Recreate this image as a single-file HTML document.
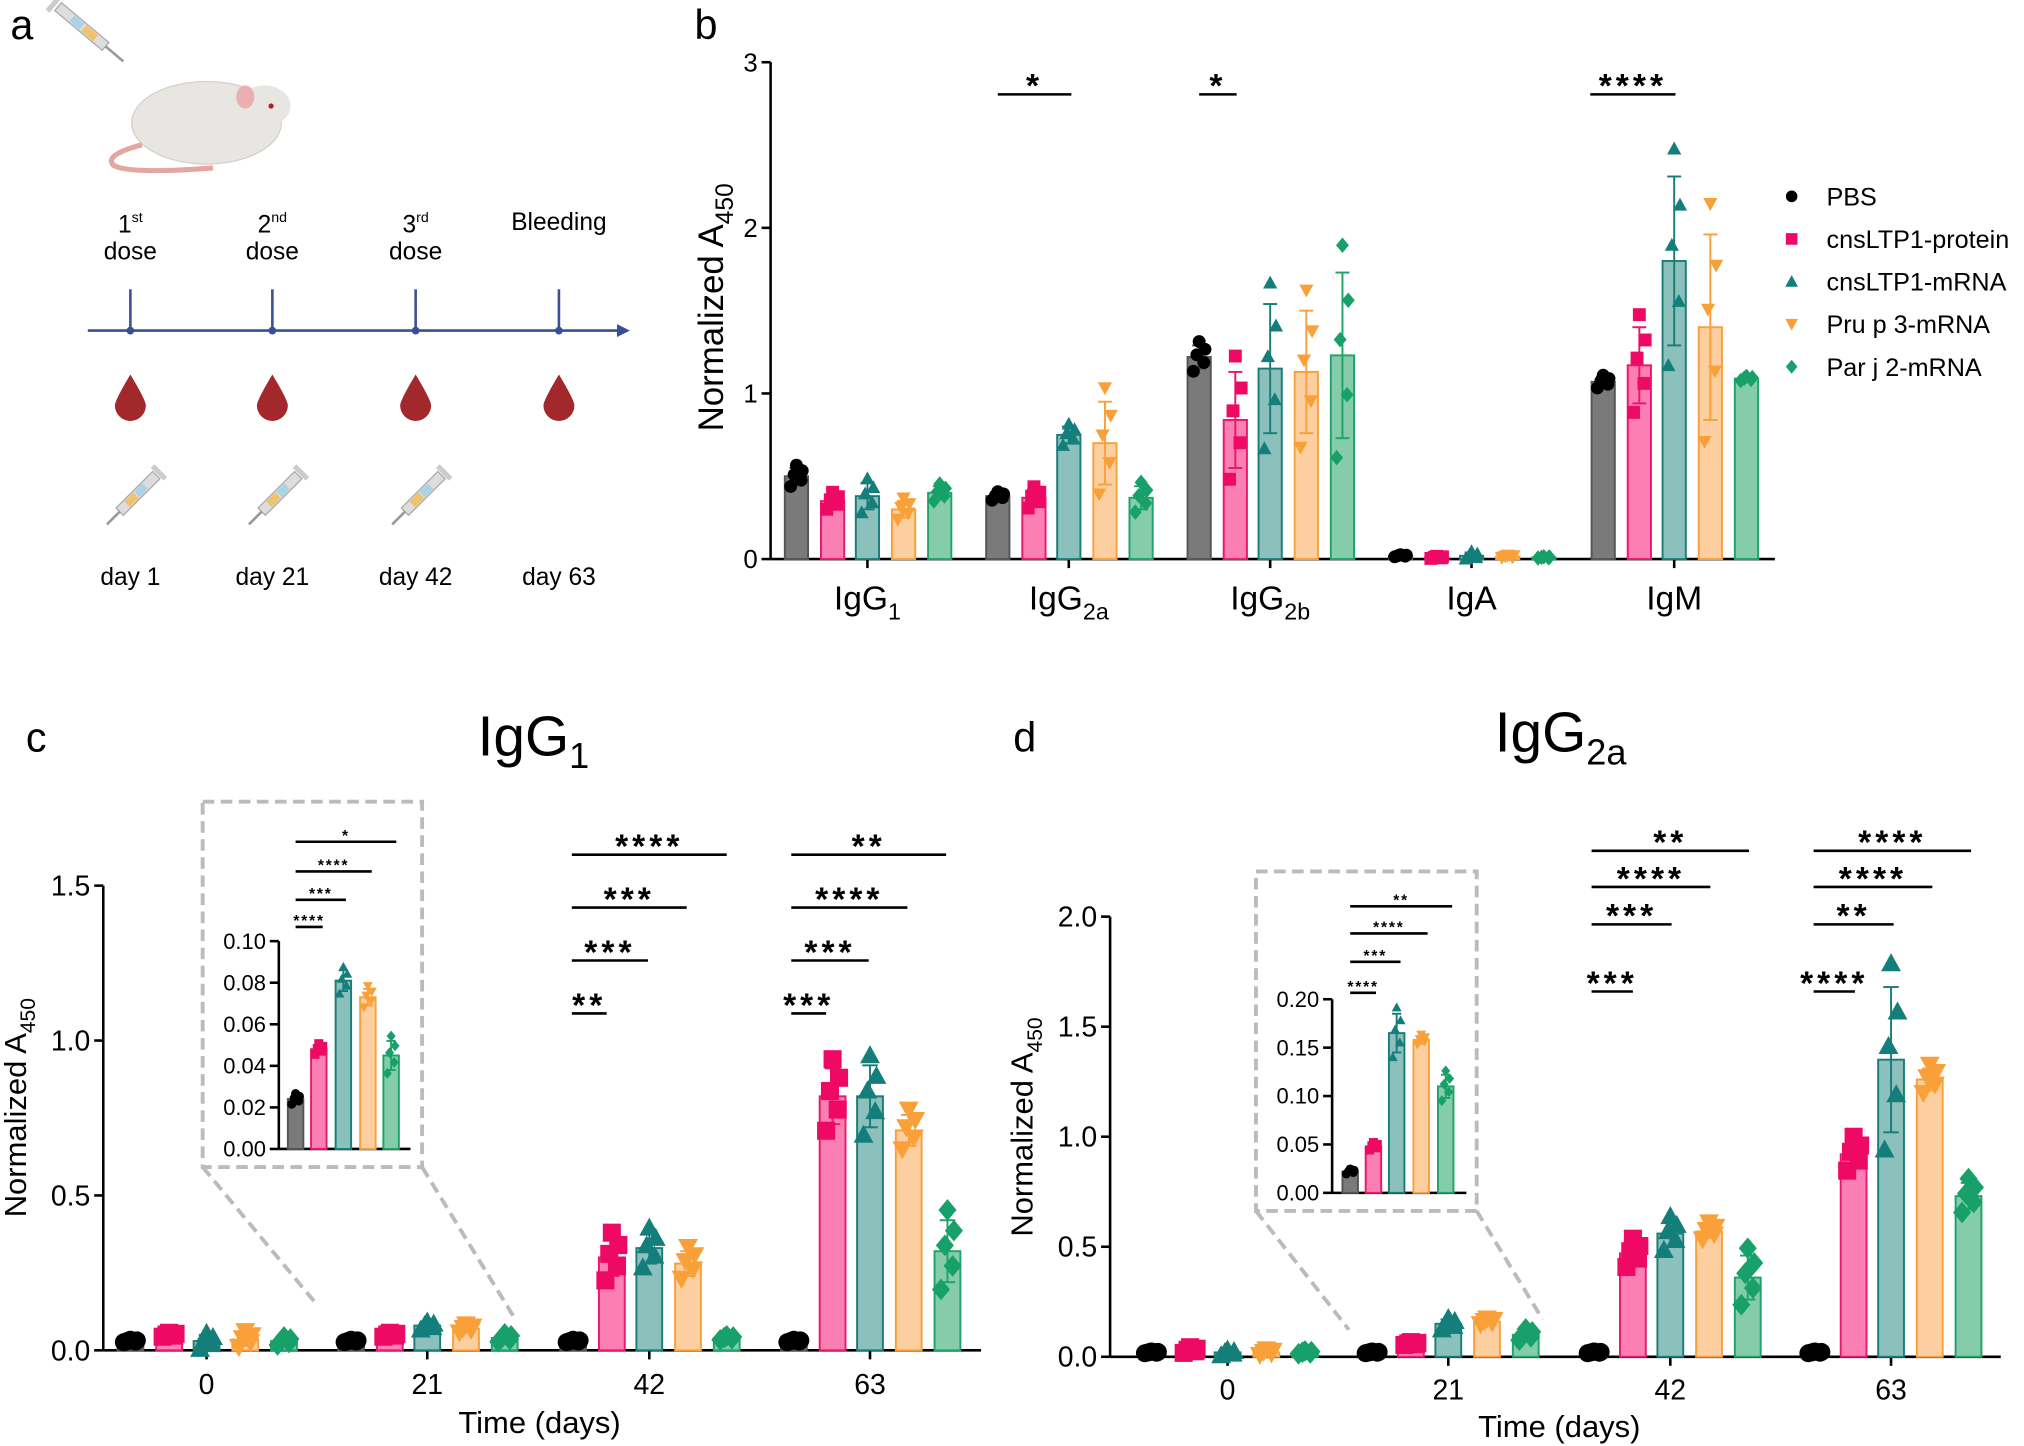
<!DOCTYPE html>
<html><head><meta charset="utf-8"><style>
html,body{margin:0;padding:0;background:#fff;}
svg{display:block;font-family:"Liberation Sans",Arial,sans-serif;}
</style></head><body>
<svg id="s" width="2024" height="1446" viewBox="0 0 1568 1120" xmlns="http://www.w3.org/2000/svg">
<text x="8" y="30" font-size="32">a</text>
<g transform="translate(45,5) rotate(40)">
<rect x="0" y="-4" width="48" height="8" fill="#ddd" stroke="#aaa"/><rect x="14" y="-3" width="10" height="6" fill="#a8d4e6"/><rect x="26" y="-3" width="12" height="6" fill="#f2c26b"/><line x1="48" y1="0" x2="66" y2="0" stroke="#999" stroke-width="2"/><rect x="-6" y="-8" width="4" height="16" fill="#ccc"/></g>
<ellipse cx="160" cy="95" rx="58" ry="32" fill="#e8e6e3" stroke="#d5d0ca"/>
<ellipse cx="205" cy="82" rx="20" ry="16" fill="#e8e6e3"/>
<ellipse cx="190" cy="75" rx="7" ry="9" fill="#eab0b0"/>
<circle cx="210" cy="82" r="2" fill="#b02020"/>
<path d="M110 112 Q80 120 88 128 Q100 135 165 130" fill="none" stroke="#e6a6a0" stroke-width="4"/>
<g fill="#000" font-size="19" text-anchor="middle">
<text x="101" y="180">1<tspan font-size="11" dy="-8">st</tspan></text><text x="101" y="201">dose</text>
<text x="211" y="180">2<tspan font-size="11" dy="-8">nd</tspan></text><text x="211" y="201">dose</text>
<text x="322" y="180">3<tspan font-size="11" dy="-8">rd</tspan></text><text x="322" y="201">dose</text>
<text x="433" y="178">Bleeding</text>
<text x="101" y="453">day 1</text><text x="211" y="453">day 21</text><text x="322" y="453">day 42</text><text x="433" y="453">day 63</text>
</g>
<line x1="68" y1="256" x2="480" y2="256" stroke="#3a4f95" stroke-width="2"/>
<polygon points="478,251 488,256 478,261" fill="#3a4f95"/>
<g id="tl"></g>
<text x="538" y="30" font-size="32">b</text>
<text x="20" y="582" font-size="32">c</text>
<text x="785" y="582" font-size="32">d</text>
<text x="370" y="585" font-size="44">IgG<tspan font-size="28" dy="10">1</tspan></text>
<text x="1158" y="582" font-size="44">IgG<tspan font-size="28" dy="10">2a</tspan></text>
<g id="g"></g>
</svg>
<script>
const NS="http://www.w3.org/2000/svg",G=document.getElementById('g'),TL=document.getElementById('tl');
function el(t,a,p,txt){const e=document.createElementNS(NS,t);for(const k in a)e.setAttribute(k,a[k]);if(txt!=null)e.textContent=txt;(p||G).appendChild(e);return e;}
[101,211,322,433].forEach((x,i)=>{el('line',{x1:x,y1:224,x2:x,y2:256,stroke:'#3a4f95','stroke-width':2},TL);el('circle',{cx:x,cy:256,r:3,fill:'#3a4f95'},TL);
el('path',{d:`M${x} 290 Q${x-12} 310 ${x-12} 314 A12 12 0 0 0 ${x+12} 314 Q${x+12} 310 ${x} 290Z`,fill:'#a3282b'},TL);
if(i<3){const g=el('g',{transform:`translate(${x+20},368) rotate(135)`},TL);el('rect',{x:0,y:-4,width:40,height:8,fill:'#ddd',stroke:'#aaa'},g);el('rect',{x:12,y:-3,width:9,height:6,fill:'#a8d4e6'},g);el('rect',{x:22,y:-3,width:10,height:6,fill:'#f2c26b'},g);el('line',{x1:40,y1:0,x2:54,y2:0,stroke:'#999','stroke-width':2},g);el('rect',{x:-5,y:-7,width:4,height:14,fill:'#ccc'},g);}
});
const C=[{f:'#7a7a7a',s:'#555',m:'#000',k:'c'},{f:'#fb7fb2',s:'#e8196d',m:'#ee0a64',k:'s'},{f:'#8bc0bd',s:'#1a7d78',m:'#147f7a',k:'u'},{f:'#fdcfa0',s:'#f8a03a',m:'#f9a038',k:'d'},{f:'#85ccaa',s:'#1fa36b',m:'#17a06a',k:'r'}];
function mk(k,x,y,r,col){
 if(k=='c')el('circle',{cx:x,cy:y,r:r,fill:col});
 else if(k=='s')el('rect',{x:x-r,y:y-r,width:2*r,height:2*r,fill:col});
 else if(k=='u')el('polygon',{points:`${x-r*1.1},${y+r*0.9} ${x+r*1.1},${y+r*0.9} ${x},${y-r*1.1}`,fill:col});
 else if(k=='d')el('polygon',{points:`${x-r*1.1},${y-r*0.9} ${x+r*1.1},${y-r*0.9} ${x},${y+r*1.1}`,fill:col});
 else el('polygon',{points:`${x},${y-r*1.2} ${x+r},${y} ${x},${y+r*1.2} ${x-r},${y}`,fill:col});}
function txt(x,y,s,sz,anc,extra){const a={x:x,y:y,'font-size':sz,'text-anchor':anc||'middle'};Object.assign(a,extra||{});return el('text',a,G,s);}
function bars(Y,cx,w,vals,sds,r){vals.forEach((v,i)=>{const c=C[i],x=cx[i],y0=Y(0),yv=Y(v);
 el('rect',{x:x-w/2,y:yv,width:w,height:y0-yv,fill:c.f,stroke:c.s,'stroke-width':1.5});
 const sd=sds[i];if(sd>0){el('line',{x1:x,y1:Y(v-sd),x2:x,y2:Y(v+sd),stroke:c.s,'stroke-width':1.5});[v-sd,v+sd].forEach(q=>el('line',{x1:x-w*0.3,y1:Y(q),x2:x+w*0.3,y2:Y(q),stroke:c.s,'stroke-width':1.5}));}
 const off=[-1.3,-0.5,0.2,0.7,1.4],jx=[-0.25,0.2,-0.1,0.25,0];
 off.forEach((o,j)=>mk(c.k,x+jx[j]*w,Y(Math.max(v+o*sd*0.95,0.002)),r,c.m));});}
function sig(x1,x2,y,s,sz){sz=sz||26;el('line',{x1:x1,y1:y,x2:x2,y2:y,stroke:'#000','stroke-width':2});txt((x1+x2)/2,y-3+sz*0.2,s,sz,'middle',{'font-weight':'bold','letter-spacing':sz*0.12});}
function yax(x,Y,ticks,fmt,sz,top){el('line',{x1:x,y1:Y(top),x2:x,y2:Y(0),stroke:'#000','stroke-width':2});
 ticks.forEach(t=>{el('line',{x1:x-7,y1:Y(t),x2:x,y2:Y(t),stroke:'#000','stroke-width':2});txt(x-10,Y(t)+sz*0.35,fmt(t),sz,'end');});}
{const Y=v=>433-128.3*v;yax(597,Y,[0,1,2,3],t=>t,20,3);
 el('line',{x1:597,y1:433,x2:1375,y2:433,stroke:'#000','stroke-width':2});
 const cen=[672,828,984,1140,1297],lab=[['IgG','1'],['IgG','2a'],['IgG','2b'],['IgA',''],['IgM','']];
 const V=[[.5,.35,.38,.3,.4],[.38,.37,.75,.7,.37],[1.22,.84,1.15,1.13,1.23],[.02,.01,.02,.015,.01],[1.07,1.17,1.8,1.4,1.09]];
 const S=[[.05,.04,.08,.05,.04],[.02,.05,.05,.25,.07],[.07,.29,.39,.37,.5],[.005,.005,.02,.005,.003],[.03,.23,.51,.56,.01]];
 cen.forEach((c,g)=>{el('line',{x1:c,y1:433,x2:c,y2:440,stroke:'#000','stroke-width':2});
  const t=txt(c,472,lab[g][0],26);if(lab[g][1]){const ts=document.createElementNS(NS,'tspan');ts.setAttribute('font-size',18);ts.setAttribute('dy',8);ts.textContent=lab[g][1];t.appendChild(ts);}
  bars(Y,[-55,-27,0,28,56].map(o=>c+o),18,V[g],S[g],5);});
 sig(773,830,73,'*');sig(929,958,73,'*');sig(1232,1298,73,'****');
 const t=el('text',{transform:'translate(560,238) rotate(-90)','font-size':27,'text-anchor':'middle'},G,'Normalized A');const ts=document.createElementNS(NS,'tspan');ts.setAttribute('font-size',19);ts.setAttribute('dy',8);ts.textContent='450';t.appendChild(ts);
 ['PBS','cnsLTP1-protein','cnsLTP1-mRNA','Pru p 3-mRNA','Par j 2-mRNA'].forEach((s,i)=>{mk(C[i].k,1388,152+33*i,4.5,C[i].m);txt(1415,159+33*i,s,19.5,'start');});}
function ylab(x,y,sz){const t=el('text',{transform:`translate(${x},${y}) rotate(-90)`,'font-size':sz,'text-anchor':'middle'},G,'Normalized A');const ts=document.createElementNS(NS,'tspan');ts.setAttribute('font-size',sz*0.68);ts.setAttribute('dy',sz*0.3);ts.textContent='450';t.appendChild(ts);}
{const Y=v=>1046-240*v;yax(80,Y,[0,0.5,1,1.5],t=>t.toFixed(1),22,1.5);
 el('line',{x1:80,y1:1046,x2:760,y2:1046,stroke:'#000','stroke-width':2});
 const cen=[160,331,503,674],lab=['0','21','42','63'];
 const V=[[.03,.05,.03,.035,.03],[.03,.05,.08,.07,.04],[.03,.3,.33,.28,.04],[.03,.82,.82,.71,.32]];
 const S=[[.003,.005,.02,.02,.01],[.003,.005,.01,.01,.01],[.003,.06,.05,.04,.005],[.003,.09,.1,.05,.1]];
 cen.forEach((c,g)=>{el('line',{x1:c,y1:1046,x2:c,y2:1053,stroke:'#000','stroke-width':2});txt(c,1080,lab[g],22);
  bars(Y,[-59,-29,0,30,60].map(o=>c+o),20,V[g],S[g],7);});
 txt(418,1110,'Time (days)',24);ylab(20,858,24);
 sig(443,470,785,'**');sig(443,502,744,'***');sig(443,532,703,'***');sig(443,563,662,'****');
 sig(613,640,785,'***');sig(613,673,744,'***');sig(613,703,703,'****');sig(613,733,662,'**');
 el('rect',{x:157,y:621,width:170,height:283,fill:'none',stroke:'#bbb','stroke-width':3,'stroke-dasharray':'9,5'});
 el('line',{x1:157,y1:904,x2:245,y2:1010,stroke:'#bbb','stroke-width':3,'stroke-dasharray':'9,5'});
 el('line',{x1:327,y1:904,x2:398,y2:1020,stroke:'#bbb','stroke-width':3,'stroke-dasharray':'9,5'});
 const Yi=v=>890-1610*v;yax(216,Yi,[0,.02,.04,.06,.08,.10],t=>t.toFixed(2),17,0.1);
 el('line',{x1:216,y1:890,x2:318,y2:890,stroke:'#000','stroke-width':2});
 bars(Yi,[229,247,266,285,303],12,[.024,.048,.081,.073,.045],[.002,.002,.005,.004,.007],3.5);
 sig(229,250,718,'****',12);sig(229,268,697,'***',12);sig(229,288,675,'****',12);sig(229,307,652,'*',12);}
{const Y=v=>1051-170.5*v;yax(860,Y,[0,0.5,1,1.5,2],t=>t.toFixed(1),22,2);
 el('line',{x1:860,y1:1051,x2:1550,y2:1051,stroke:'#000','stroke-width':2});
 const cen=[951,1122,1294,1465],lab=['0','21','42','63'];
 const V=[[.02,.03,.02,.02,.02],[.02,.06,.15,.16,.1],[.02,.47,.56,.57,.36],[.02,.92,1.35,1.26,.73]];
 const S=[[.003,.01,.01,.01,.005],[.003,.005,.02,.01,.02],[.003,.05,.06,.03,.1],[.003,.06,.33,.05,.06]];
 cen.forEach((c,g)=>{el('line',{x1:c,y1:1051,x2:c,y2:1058,stroke:'#000','stroke-width':2});txt(c,1084,lab[g],22);
  bars(Y,[-59,-29,0,30,60].map(o=>c+o),20,V[g],S[g],7);});
 txt(1208,1113,'Time (days)',24);ylab(800,873,24);
 sig(1233,1265,768,'***');sig(1233,1295,716,'***');sig(1233,1325,687,'****');sig(1233,1355,659,'**');
 sig(1405,1437,768,'****');sig(1405,1467,716,'**');sig(1405,1497,687,'****');sig(1405,1527,659,'****');
 el('rect',{x:973,y:675,width:171,height:263,fill:'none',stroke:'#bbb','stroke-width':3,'stroke-dasharray':'9,5'});
 el('line',{x1:973,y1:938,x2:1045,y2:1030,stroke:'#bbb','stroke-width':3,'stroke-dasharray':'9,5'});
 el('line',{x1:1144,y1:938,x2:1195,y2:1022,stroke:'#bbb','stroke-width':3,'stroke-dasharray':'9,5'});
 const Yi=v=>924-750*v;yax(1032,Yi,[0,.05,.1,.15,.2],t=>t.toFixed(2),17,0.2);
 el('line',{x1:1032,y1:924,x2:1136,y2:924,stroke:'#000','stroke-width':2});
 bars(Yi,[1046,1064,1082,1101,1120],12,[.022,.048,.165,.158,.11],[.002,.003,.02,.004,.012],3.5);
 sig(1046,1066,769,'****',12);sig(1046,1085,745,'***',12);sig(1046,1106,723,'****',12);sig(1046,1125,702,'**',12);}
</script>
</body></html>
